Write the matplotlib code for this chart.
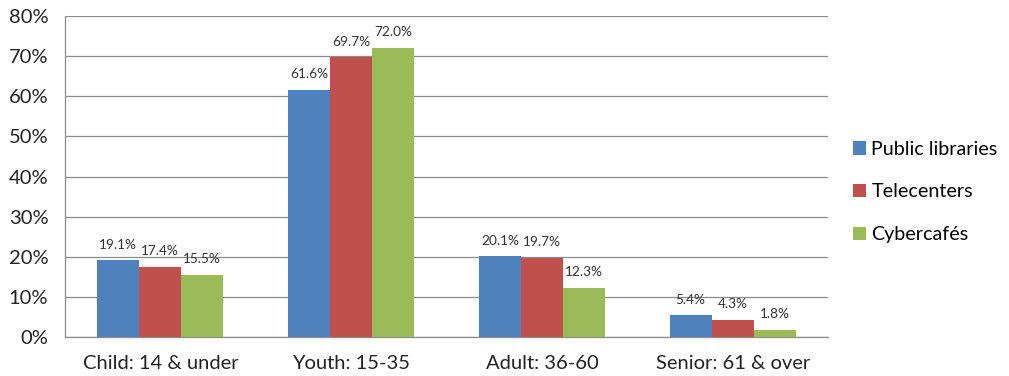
import matplotlib
matplotlib.use("Agg")
import matplotlib.pyplot as plt
import numpy as np

categories = ["Child: 14 & under", "Youth: 15-35", "Adult: 36-60", "Senior: 61 & over"]
series_names = ["Public libraries", "Telecenters", "Cybercafés"]
public_libraries = [19.1, 61.6, 20.1, 5.4]
telecenters = [17.4, 69.7, 19.7, 4.3]
cybercafes = [15.5, 72.0, 12.3, 1.8]
yticks = [0, 10, 20, 30, 40, 50, 60, 70, 80]

colors = ["#4F81BD", "#C0504D", "#9BBB59"]
plt.rcParams['font.family'] = ['Lato', 'DejaVu Sans']

fig = plt.figure(figsize=(10.09, 3.76), dpi=100)
ax = fig.add_axes([65/1009, 39/376, (828-65)/1009, (337-16)/376])

x = np.arange(len(categories))
w = 0.22
for i, (vals, name, c) in enumerate(zip([public_libraries, telecenters, cybercafes], series_names, colors)):
    pos = x + (i - 1) * w
    ax.bar(pos, vals, width=w, color=c, label=name, zorder=3)
    for p, v in zip(pos, vals):
        ax.annotate(f"{v:.1f}%", (p, v), xytext=(0, 7), textcoords="offset points",
                    ha="center", va="bottom", fontsize=9.8, color="#333333")

ax.set_xlim(-0.5, len(categories) - 0.5)
ax.set_ylim(0, 80)
ax.set_yticks(yticks)
ax.set_yticklabels([f"{t}%" for t in yticks])
ax.set_xticks(x)
ax.set_xticklabels(categories)
ax.tick_params(axis='both', length=0, labelsize=14.5, colors="#222222")
ax.tick_params(axis='y', pad=12)
ax.tick_params(axis='x', pad=13)
ax.yaxis.grid(True, color="#8c8c8c", linewidth=0.9, zorder=0)
for s in ["top", "right"]:
    ax.spines[s].set_visible(False)
for s in ["left", "bottom"]:
    ax.spines[s].set_color("#8c8c8c")
    ax.spines[s].set_linewidth(0.9)

leg = fig.legend(loc="center left", bbox_to_anchor=(835/1009, 1 - 192/376), frameon=False,
                 fontsize=14.2, handlelength=0.65, handleheight=0.65, handletextpad=0.3, labelspacing=1.3)

fig.savefig("out.png", dpi=100)
